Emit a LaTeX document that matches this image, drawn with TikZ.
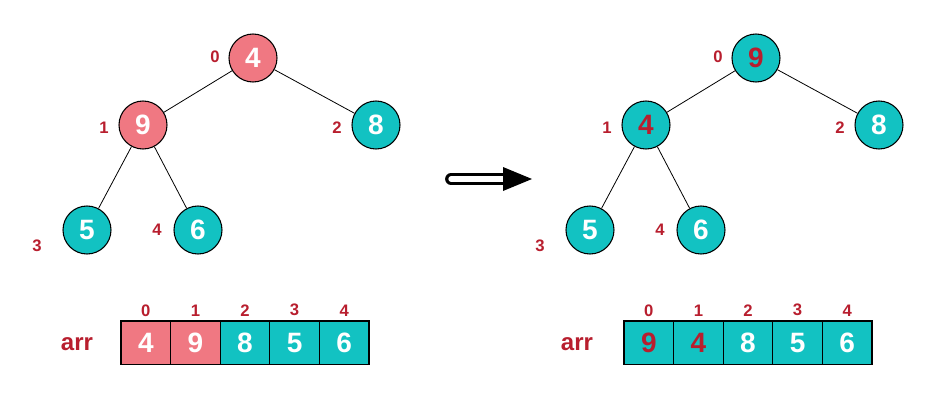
\documentclass[tikz,border=0pt]{standalone}
\usepackage{fontspec}
\setmainfont{Liberation Sans}
\usepackage{xcolor}
\usetikzlibrary{positioning}
\definecolor{heapA}{HTML}{F07882}
\definecolor{heapB}{HTML}{12C2C2}
\definecolor{idxred}{HTML}{B81E2E}
\tikzset{
  hnode/.style={circle, draw=black, line width=0.8pt, minimum size=36pt,
                inner sep=0pt, font=\fontsize{21}{24}\selectfont\bfseries},
  hot/.style  ={fill=heapA, text=white},
  cool/.style ={fill=heapB, text=white},
  moved/.style={fill=heapB, text=idxred},
  cell/.style ={rectangle, draw=black, line width=0.8pt, minimum width=37.2pt,
                minimum height=32.3pt, inner sep=0pt,
                font=\fontsize{21}{24}\selectfont\bfseries},
  idx/.style  ={text=idxred, inner sep=0pt, font=\fontsize{12.5}{14}\selectfont\bfseries},
  arrname/.style={text=idxred, inner sep=0pt, font=\fontsize{18}{20}\selectfont\bfseries},
  tedge/.style={draw=black, line width=0.6pt},
}
\def\treeedges{0/1, 0/2, 1/3, 1/4}

\begin{document}
\begin{tikzpicture}[x=0.75pt,y=-0.75pt]
\useasboundingbox (0,0) rectangle (949,400);
% before: the heap with 4 at the root
\foreach \n/\x/\y/\v/\s in {0/253/58/4/hot, 1/143/125/9/hot, 2/376/125/8/cool,
                            3/87/230/5/cool, 4/198/230/6/cool}
  {\node[hnode,\s] (L\n) at (\x,\y) {\v};}
\foreach \a/\b in \treeedges {\draw[tedge] (L\a) -- (L\b);}
\foreach \n/\x/\y in {0/215/57, 1/104/128, 2/337/128, 3/37/246, 4/157/230}
  {\node[idx] (Li\n) at (\x,\y) {\n};}
\node[arrname] (Larr) at (77,344) {arr};
\foreach \i/\v/\s in {0/4/hot, 1/9/hot, 2/8/cool, 3/5/cool, 4/6/cool}
  {\node[cell,\s] (La\i) at ({145.8+49.6*\i},342.5) {\v};
   \node[idx,above=3pt of La\i] (Lai\i) {\i};}
% after: 9 and 4 swapped
\begin{scope}[shift={(503,0)}]
\foreach \n/\x/\y/\v/\s in {0/253/58/9/moved, 1/143/125/4/moved, 2/376/125/8/cool,
                            3/87/230/5/cool, 4/198/230/6/cool}
  {\node[hnode,\s] (R\n) at (\x,\y) {\v};}
\foreach \a/\b in \treeedges {\draw[tedge] (R\a) -- (R\b);}
\foreach \n/\x/\y in {0/215/57, 1/104/128, 2/337/128, 3/37/246, 4/157/230}
  {\node[idx] (Ri\n) at (\x,\y) {\n};}
\node[arrname] (Rarr) at (74,344) {arr};
\foreach \i/\v/\s in {0/9/moved, 1/4/moved, 2/8/cool, 3/5/cool, 4/6/cool}
  {\node[cell,\s] (Ra\i) at ({145.8+49.6*\i},342.5) {\v};
   \node[idx,above=3pt of Ra\i] (Rai\i) {\i};}
\end{scope}
% the big arrow between the two states
\coordinate (arrS) at (451,179);
\coordinate (arrM) at (503,179);
\coordinate (arrE) at (532,179);
\draw[line width=2.4pt, double=white, double distance=4pt, line cap=round] (arrS) -- (arrM);
\fill[black] (503,167) -- (arrE) -- (503,191) -- cycle;
\end{tikzpicture}
\end{document}
